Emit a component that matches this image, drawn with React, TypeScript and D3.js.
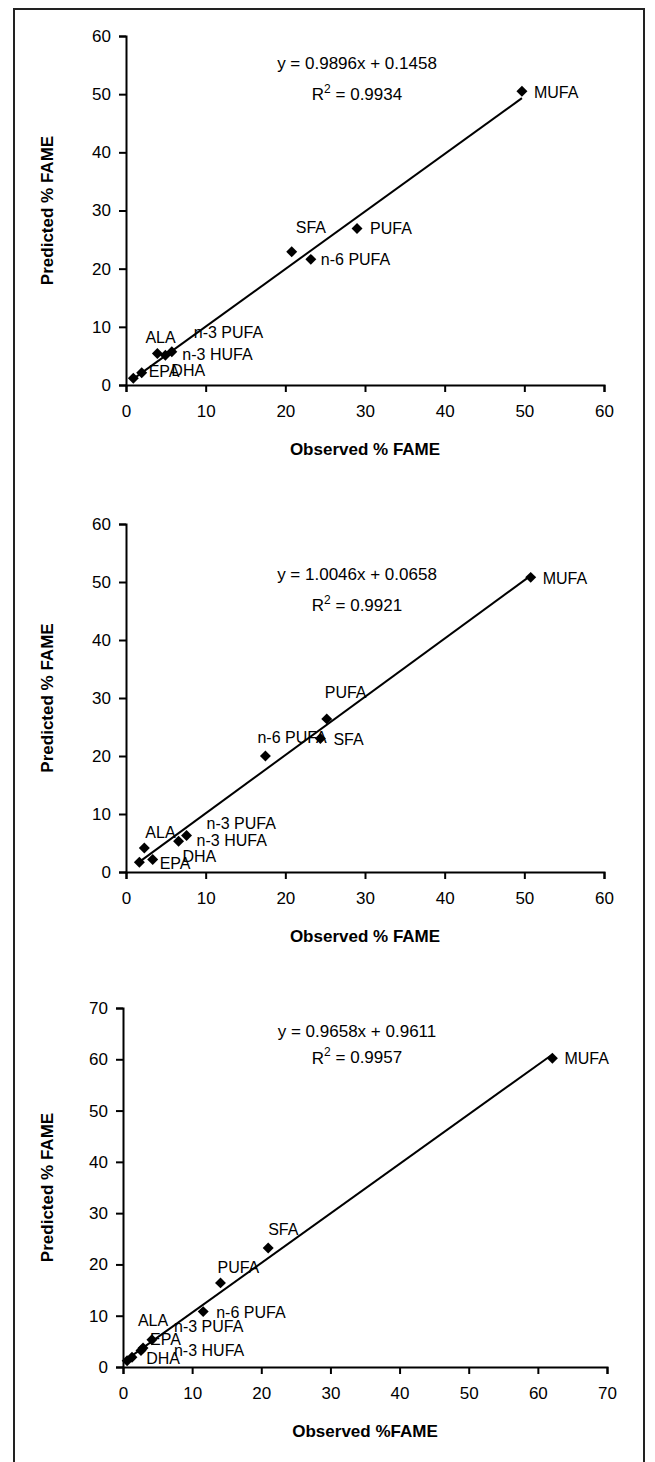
import React, { useEffect, useRef } from 'react';
import * as d3 from 'd3';

// fatty acid groups, same order in every panel
const names = ['MUFA', 'PUFA', 'SFA', 'n-6 PUFA', 'n-3 PUFA', 'n-3 HUFA', 'ALA', 'EPA', 'DHA'];

const observed1 = [49.7, 29.0, 20.8, 23.2, 5.75, 4.94, 3.94, 1.97, 0.92];
const predicted1 = [50.5, 26.9, 22.9, 21.6, 5.7, 5.1, 5.4, 2.1, 1.15];

const observed2 = [50.8, 25.2, 24.4, 17.5, 7.6, 6.6, 2.3, 3.35, 1.68];
const predicted2 = [50.8, 26.4, 23.0, 20.0, 6.3, 5.3, 4.15, 2.14, 1.68];

const observed3 = [62.1, 14.1, 21.0, 11.6, 2.9, 2.6, 4.18, 1.3, 0.6];
const predicted3 = [60.2, 16.4, 23.2, 10.8, 3.7, 3.2, 5.3, 1.9, 1.2];

const equations = ['y = 0.9896x + 0.1458', 'y = 1.0046x + 0.0658', 'y = 0.9658x + 0.9611'];
const rSquared = ['0.9934', '0.9921', '0.9957'];
const slopes = [0.9896, 1.0046, 0.9658];
const intercepts = [0.1458, 0.0658, 0.9611];
const axisMax = [60, 60, 70];
const xTitles = ['Observed % FAME', 'Observed % FAME', 'Observed %FAME'];
const yTitle = 'Predicted % FAME';

const observedSets = [observed1, observed2, observed3];
const predictedSets = [predicted1, predicted2, predicted3];

// layout of the three plot areas (pixels); eq/r2 rows placed at axis values
const panels = [
  { left: 126, right: 604, top: 36, bottom: 385, eqAt: 55.3, r2At: 50 },
  { left: 126, right: 604, top: 524, bottom: 872, eqAt: 51.3, r2At: 46 },
  { left: 123, right: 607, top: 1008, bottom: 1367, eqAt: 65.5, r2At: 60.3 },
];

// label offsets from each marker [dx to text start, dy to text middle]
const labelOffsets = [
  [[12, 1], [13, 0], [4, -24], [10, 0], [22, -19], [17, -1], [-12, -16], [7, -1], [38, -8]],
  [[12, 1], [-2, -26], [13, 1], [-8, -19], [20, -12], [18, -1], [1, -16], [7, 4], [43, -6]],
  [[12, 0], [-3, -15], [0, -19], [13, 1], [31, -22], [33, 0], [-14, -19], [18, -18], [19, -2]],
];

const FONT = '"Liberation Sans", Arial, sans-serif';

export default function App() {
  const svgRef = useRef<SVGSVGElement>(null);

  useEffect(() => {
    const svg = d3.select(svgRef.current);
    svg.selectAll('*').remove();

    // outer frame
    svg.append('rect')
      .attr('x', 14).attr('y', 9)
      .attr('width', 630).attr('height', 1470)
      .attr('fill', 'none')
      .attr('stroke', '#222')
      .attr('stroke-width', 2);

    panels.forEach((p, i) => {
      const obs = observedSets[i];
      const pred = predictedSets[i];
      const max = axisMax[i];
      const x = d3.scaleLinear().domain([0, max]).range([p.left, p.right]);
      const y = d3.scaleLinear().domain([0, max]).range([p.bottom, p.top]);
      const ticks = d3.range(0, max + 1, 10);
      const g = svg.append('g');

      const xAxis = g.append('g')
        .attr('transform', `translate(0,${p.bottom})`)
        .call(d3.axisBottom(x).tickValues(ticks).tickSize(7).tickPadding(13).tickFormat(d3.format('d')));
      const yAxis = g.append('g')
        .attr('transform', `translate(${p.left},0)`)
        .call(d3.axisLeft(y).tickValues(ticks).tickSize(7).tickPadding(8).tickFormat(d3.format('d')));

      [xAxis, yAxis].forEach((a) => {
        a.attr('font-family', FONT).attr('font-size', 17);
        a.selectAll('path, line').attr('stroke', '#000').attr('stroke-width', 2);
        a.selectAll('text').attr('fill', '#000');
      });

      // data labels
      g.append('g')
        .selectAll('text')
        .data(names)
        .join('text')
        .attr('x', (d, k) => x(obs[k]) + labelOffsets[i][k][0])
        .attr('y', (d, k) => y(pred[k]) + labelOffsets[i][k][1])
        .attr('dy', '0.35em')
        .attr('font-family', FONT)
        .attr('font-size', 16)
        .attr('fill', '#000')
        .text((d) => d);

      // markers
      const diamond = d3.symbol(d3.symbolSquare, 60);
      g.append('g')
        .selectAll('path')
        .data(names)
        .join('path')
        .attr('d', diamond)
        .attr('transform', (d, k) => `translate(${x(obs[k])},${y(pred[k])}) rotate(45)`)
        .attr('fill', '#000');

      // linear trendline over the observed range
      const [x0, x1] = d3.extent(obs) as [number, number];
      const trend = d3.line<number>()
        .x((v) => x(v))
        .y((v) => y(slopes[i] * v + intercepts[i]));
      g.append('path')
        .datum([x0, x1])
        .attr('d', trend)
        .attr('fill', 'none')
        .attr('stroke', '#000')
        .attr('stroke-width', 2);

      // equation and R²
      const cx = 357;
      g.append('text')
        .attr('x', cx).attr('y', y(p.eqAt))
        .attr('dy', '0.35em')
        .attr('text-anchor', 'middle')
        .attr('font-family', FONT)
        .attr('font-size', 17)
        .text(equations[i]);
      const r2 = g.append('text')
        .attr('x', cx).attr('y', y(p.r2At))
        .attr('dy', '0.35em')
        .attr('text-anchor', 'middle')
        .attr('font-family', FONT)
        .attr('font-size', 17);
      r2.append('tspan').text('R');
      r2.append('tspan').attr('font-size', 12).attr('dy', '-0.6em').text('2');
      r2.append('tspan').attr('dy', '0.4em').text(` = ${rSquared[i]}`);

      // axis titles
      g.append('text')
        .attr('x', (p.left + p.right) / 2)
        .attr('y', p.bottom + 70)
        .attr('text-anchor', 'middle')
        .attr('font-family', FONT)
        .attr('font-size', 17)
        .attr('font-weight', 'bold')
        .text(xTitles[i]);
      g.append('text')
        .attr('transform', `translate(53,${(p.top + p.bottom) / 2}) rotate(-90)`)
        .attr('text-anchor', 'middle')
        .attr('font-family', FONT)
        .attr('font-size', 17)
        .attr('font-weight', 'bold')
        .text(yTitle);
    });
  }, []);

  return (
    <div style={{ position: 'absolute', left: 0, top: 0 }}>
      <svg ref={svgRef} width={655} height={1462} style={{ display: 'block', background: '#fff' }} />
    </div>
  );
}
